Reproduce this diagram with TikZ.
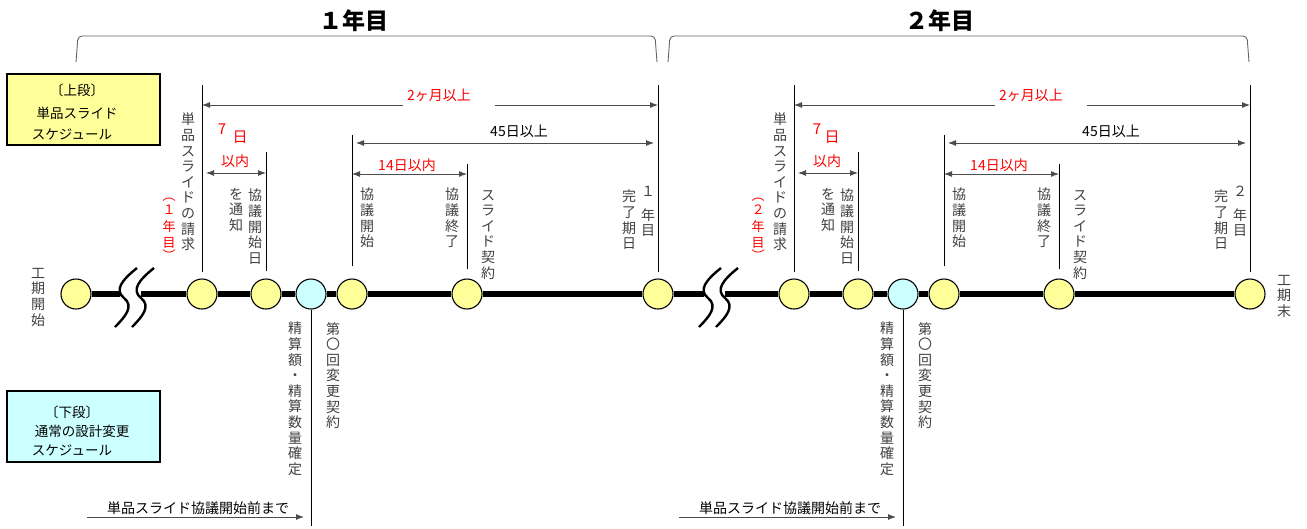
\documentclass[tikz,border=0pt]{standalone}
\usepackage{fontspec}
\setmainfont{Noto Sans CJK JP}
\usetikzlibrary{arrows.meta}
\definecolor{ylw}{HTML}{FFFF99}
\definecolor{cyn}{HTML}{CCFFFF}
\definecolor{vgray}{HTML}{404040}
\begin{document}
\begin{tikzpicture}[x=1pt,y=-1pt,
  milestone/.style={circle,draw=black,line width=1.1pt,fill=ylw,minimum size=30pt,inner sep=0pt},
  msc/.style={milestone,fill=cyn},
  vtext/.style={anchor=north,align=center,inner sep=0pt,text=vgray,font=\fontsize{14}{15.6}\selectfont},
  rch/.style={inner sep=0pt,text=red,font=\fontsize{13}{13}\selectfont},
  gch/.style={inner sep=0pt,text=vgray,font=\fontsize{14}{14}\selectfont},
  tick/.style={draw=black,line width=0.9pt},
  axis/.style={draw=black,line width=6pt},
  wave/.style={draw=black,line width=2.4pt},
  dim/.style={draw=black!70,line width=0.9pt,{Latex[length=8pt,width=6pt]}-{Latex[length=8pt,width=6pt]}},
  onearrow/.style={draw=black!70,line width=0.9pt,-{Latex[length=8pt,width=6pt]}},
  lbl/.style={inner sep=0pt,font=\fontsize{14}{14}\selectfont},
  boxlbl/.style={inner sep=0pt,font=\fontsize{13.5}{13.5}\selectfont},
  brk/.style={draw=black!60,line width=0.9pt,rounded corners=4pt},
  legend/.style={draw=black,line width=1.2pt,minimum width=153pt,minimum height=71pt,inner sep=0pt}
]
\useasboundingbox (0,0) rectangle (1307,528);

% titles and brackets
\node[font=\fontsize{23}{23}\selectfont\bfseries] (t1) at (354,21) {１年目};
\node[font=\fontsize{23}{23}\selectfont\bfseries] (t2) at (940,21) {２年目};
\draw[brk] (76,62) -- (78,36) -- (655,36) -- (657,62);
\draw[brk] (668,62) -- (670,36) -- (1247,36) -- (1249,62);

% legend boxes
\node[legend,fill=ylw] (up) at (83.5,109.5) {};
\node[boxlbl] at (77,90) {〔上段〕};
\node[boxlbl] at (77,113) {単品スライド};
\node[boxlbl] at (72,134) {スケジュール};
\node[legend,fill=cyn] (low) at (83.5,426.5) {};
\node[boxlbl] at (72,412) {〔下段〕};
\node[boxlbl] at (82,431) {通常の設計変更};
\node[boxlbl] at (72,450) {スケジュール};

% start node
\node[milestone] (s0) at (76,294) {};
\node[vtext] at (38,268) {工\\期\\開\\始};
\node[vtext] at (1284,275) {工\\期\\末};

\coordinate (w1a) at (120,294);
\coordinate (w1b) at (141,294);
\coordinate (w2a) at (704,294);
\coordinate (w2b) at (725,294);
\coordinate (h2m) at (0,105);
\coordinate (h45) at (0,143);
\coordinate (h14) at (0,174);
\coordinate (h7) at (0,173);
\coordinate (hb) at (0,517);

\foreach \o/\y/\Y/\px/\sx/\nx/\wo in {0/1/１/169/222/240/0, 592/2/２/758/817/832/584}{
  \node[milestone] (r\y) at (202+\o,294) {};
  \node[milestone] (n\y) at (266+\o,294) {};
  \node[msc]       (k\y) at (311+\o,294) {};
  \node[milestone] (b\y) at (352+\o,294) {};
  \node[milestone] (e\y) at (467+\o,294) {};
  \node[milestone] (d\y) at (658+\o,294) {};
  % axis
  \draw[axis] (w\y b) -- (r\y);
  \draw[axis] (r\y) -- (n\y);
  \draw[axis] (n\y) -- (k\y);
  \draw[axis] (k\y) -- (b\y);
  \draw[axis] (b\y) -- (e\y);
  \draw[axis] (e\y) -- (d\y);
  % break waves
  \draw[wave] (137+\wo,268) .. controls (122+\wo,280) and (114+\wo,290) .. (124+\wo,298) .. controls (134+\wo,306) and (126+\wo,316) .. (115+\wo,327);
  \draw[wave] (154+\wo,268) .. controls (139+\wo,280) and (131+\wo,290) .. (141+\wo,298) .. controls (151+\wo,306) and (143+\wo,316) .. (132+\wo,327);
  % ticks
  \draw[tick] ([yshift=6pt]r\y.north) -- ([yshift=193pt]r\y.north);
  \draw[tick] ([yshift=7pt]n\y.north) -- ([yshift=126pt]n\y.north);
  \draw[tick] ([yshift=12pt]b\y.north) -- ([yshift=143pt]b\y.north);
  \draw[tick] ([yshift=9pt]e\y.north) -- ([yshift=114pt]e\y.north);
  \draw[tick] ([yshift=6pt]d\y.north) -- ([yshift=193pt]d\y.north);
  \draw[tick] (k\y.south) -- ([yshift=-216pt]k\y.south);
  % dimension arrows
  \draw[dim] (r\y |- h2m) -- (d\y |- h2m);
  \fill[white] (403+\o,100) rectangle (495+\o,108);
  \node[lbl,text=red] at (439+\o,95) {2ヶ月以上};
  \draw[dim] ([xshift=4pt]b\y |- h45) -- ([xshift=-4pt]d\y |- h45);
  \node[lbl] at (519+\o,131) {45日以上};
  \draw[dim] (b\y |- h14) -- (e\y |- h14);
  \node[lbl,text=red] at (407+\o,165) {14日以内};
  \draw[dim] ([xshift=4pt]r\y |- h7) -- (n\y |- h7);
  \node[lbl,text=red,font=\fontsize{15}{15}\selectfont] at (\sx,129) {7};
  \node[lbl,text=red,font=\fontsize{15}{15}\selectfont] at (\nx,137) {日};
  \node[lbl,text=red] at (235+\o,161) {以内};
  % vertical labels
  \node[vtext] at (188+\o,113) {単\\品\\ス\\ラ\\イ\\ド\\の\\請\\求};
  \node[rch] at (\px,200) {︵};
  \node[rch] at (\px,210) {\Y};
  \node[rch] at (\px,227) {年};
  \node[rch] at (\px,243) {目};
  \node[rch] at (\px,255) {︶};
  \node[vtext] at (236+\o,188) {を\\通\\知};
  \node[vtext] at (255+\o,189) {協\\議\\開\\始\\日};
  \node[vtext] at (367+\o,188) {協\\議\\開\\始};
  \node[vtext] at (452+\o,188) {協\\議\\終\\了};
  \node[vtext] at (488+\o,190) {ス\\ラ\\イ\\ド\\契\\約};
  \node[vtext] at (629+\o,190) {完\\了\\期\\日};
  \node[gch] at (648+\o,191) {\Y};
  \node[gch] at (648+\o,215) {年};
  \node[gch] at (648+\o,231) {目};
  \node[vtext] at (295+\o,322) {精\\算\\額\\・\\精\\算\\数\\量\\確\\定};
  \node[vtext] at (333+\o,322) {第\\〇\\回\\変\\更\\契\\約};
  % bottom arrow
  \coordinate (ba\y) at (87+\o,517);
  \draw[onearrow] (ba\y) -- ([xshift=-7pt]k\y |- hb);
  \node[lbl] at (198+\o,508) {単品スライド協議開始前まで};
}
\draw[axis] (s0) -- (w1a);
\draw[axis] (d1) -- (w2a);
\end{tikzpicture}
\end{document}
